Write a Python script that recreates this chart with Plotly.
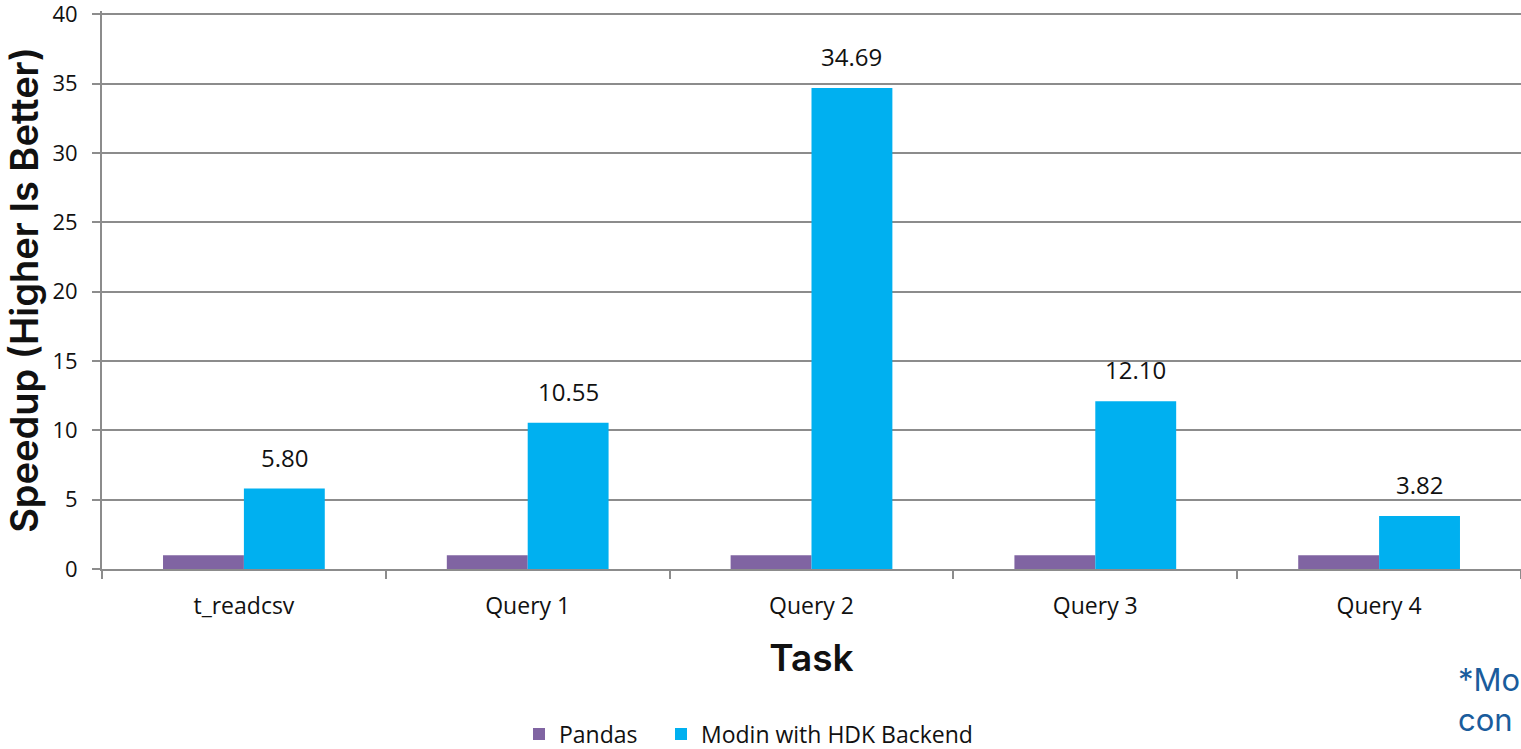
import plotly.graph_objects as go

tasks = ["t_readcsv", "Query 1", "Query 2", "Query 3", "Query 4"]
pandas_vals = [1.0, 1.0, 1.0, 1.0, 1.0]
modin_vals = [5.80, 10.55, 34.69, 12.10, 3.82]
modin_labels = ["5.80", "10.55", "34.69", "12.10", "3.82"]

TOP = 11
BOT = 180
PH = 749 - TOP - BOT  # plot height in px
Y_MAX = 40.25


def py(pix):
    """figure pixel row -> paper y"""
    return (749 - BOT - pix) / PH


def px(pix):
    return (pix - 102) / 1419


fig = go.Figure()
fig.add_trace(go.Bar(name="Pandas", x=tasks, y=pandas_vals, marker_color="#8064A2",
                     marker_line_width=0, legend="legend"))
fig.add_trace(go.Bar(name="Modin with HDK Backend", x=tasks, y=modin_vals, marker_color="#00B0F0",
                     marker_line_width=0, legend="legend2"))

for i, (v, lab) in enumerate(zip(modin_vals, modin_labels)):
    fig.add_annotation(x=i + 0.1425, y=v, xref="x", yref="y", text=lab, showarrow=False,
                       yanchor="bottom", yshift=13,
                       font=dict(family="Open Sans", size=24, color="#111111"))

fig.add_annotation(x=px(1456), y=py(699), xref="paper", yref="paper",
                   text="*Mo<br>con", showarrow=False, xanchor="left", yanchor="middle",
                   align="left",
                   font=dict(family="Inter", size=31, color="#1a5c9c", weight=400))

leg_common = dict(orientation="h", xanchor="left", y=py(734), yanchor="middle",
                  font=dict(size=23, color="#111111"), itemwidth=30)

fig.update_layout(
    width=1521, height=749,
    margin=dict(l=102, r=0, t=TOP, b=BOT, autoexpand=False),
    plot_bgcolor="white", paper_bgcolor="white",
    barmode="group", bargap=0.43, bargroupgap=0,
    font=dict(family="Open Sans", size=21, color="#111111"),
    showlegend=True,
    legend=dict(x=px(519), **leg_common),
    legend2=dict(x=px(661), **leg_common),
    xaxis=dict(
        showline=True, linecolor="#8c8c8c", linewidth=2,
        ticks="outside", tickson="boundaries", ticklen=8, tickcolor="#8c8c8c", tickwidth=2,
        tickfont=dict(size=23), ticklabelstandoff=15,
        title=dict(text="Task", font=dict(family="Inter", size=37, color="#111111", weight=600), standoff=26),
    ),
    yaxis=dict(
        range=[0, Y_MAX], tickvals=[0, 5, 10, 15, 20, 25, 30, 35, 40],
        showgrid=True, gridcolor="#8c8c8c", gridwidth=1.5,
        showline=True, linecolor="#8c8c8c", linewidth=2,
        ticks="outside", ticklen=8, tickcolor="#8c8c8c", tickwidth=1.5,
        tickfont=dict(size=22), zeroline=False, ticklabelstandoff=10,
        ticklabeloverflow="allow",
        title=dict(text="Speedup (Higher Is Better)", font=dict(family="Inter", size=38, color="#111111", weight=600), standoff=2),
    ),
)

fig.write_html("out.html")
